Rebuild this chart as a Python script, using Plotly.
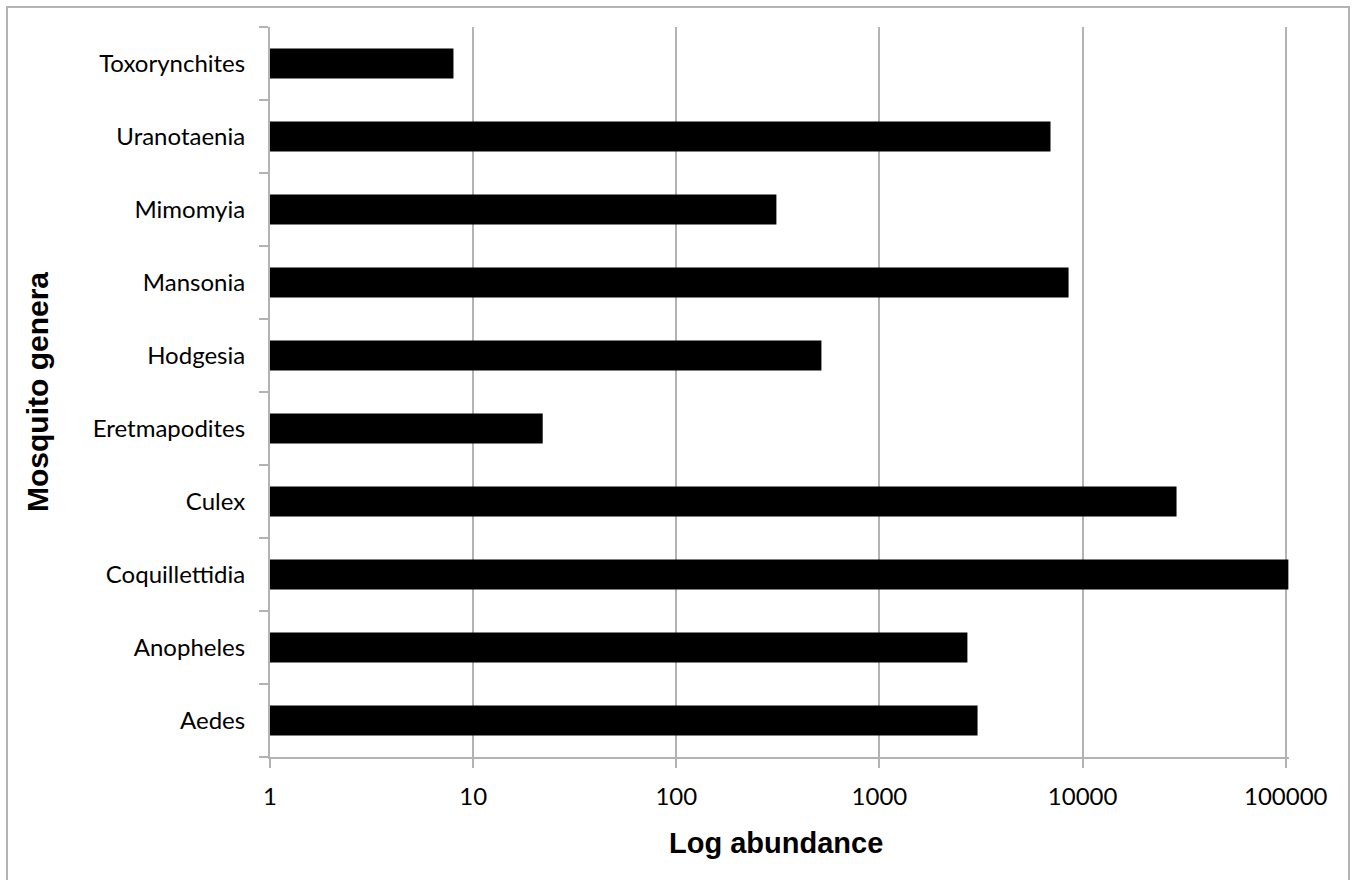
import plotly.graph_objects as go

genera = ["Aedes", "Anopheles", "Coquillettidia", "Culex", "Eretmapodites",
          "Hodgesia", "Mansonia", "Mimomyia", "Uranotaenia", "Toxorynchites"]
abundance = [3040, 2710, 103000, 29000, 22, 518, 8530, 311, 6950, 8]
tick_vals = [1, 10, 100, 1000, 10000, 100000]
tick_text = ["1", "10", "100", "1000", "10000", "100000"]

GRAY = "#b3b3b3"

fig = go.Figure(go.Bar(
    x=abundance, y=genera, orientation="h",
    marker=dict(color="black", line=dict(width=0)),
))

fig.update_layout(
    width=1355, height=880,
    margin=dict(l=270, r=66, t=27, b=123),
    plot_bgcolor="white", paper_bgcolor="white",
    bargap=0.59,
    showlegend=False,
    font=dict(family="Lato", color="black", size=24),
    xaxis=dict(
        type="log", range=[0, 5.016],
        tickvals=tick_vals, ticktext=tick_text,
        showgrid=True, gridcolor=GRAY, gridwidth=2,
        showline=True, linecolor=GRAY, linewidth=2,
        ticks="outside", ticklen=9, tickwidth=2, tickcolor=GRAY,
        ticklabelstandoff=8,
        tickfont=dict(family="Lato", size=24, color="black"),
        zeroline=False,
    ),
    yaxis=dict(
        type="category", categoryorder="array", categoryarray=genera,
        showgrid=False,
        showline=True, linecolor=GRAY, linewidth=2,
        ticks="outside", ticklen=9, tickwidth=2, tickcolor=GRAY,
        tickson="boundaries",
        ticklabelstandoff=18,
        tickfont=dict(family="Lato", size=24, color="black"),
    ),
    annotations=[
        dict(text="<b>Log abundance</b>", xref="paper", yref="paper",
             x=0.5, y=0, xanchor="center", yanchor="middle",
             xshift=-4, yshift=-86, showarrow=False,
             font=dict(family="Liberation Sans", size=29, color="black")),
        dict(text="<b>Mosquito genera</b>", xref="paper", yref="paper",
             x=0, y=0.5, xanchor="center", yanchor="middle", textangle=-90,
             xshift=-233, yshift=0, showarrow=False,
             font=dict(family="Liberation Sans", size=30, color="black")),
    ],
    shapes=[dict(type="rect", xref="paper", yref="paper",
                 x0=(7 - 270) / 1019, x1=(1349 - 270) / 1019,
                 y0=-0.2, y1=(757 - 7) / 730,
                 line=dict(color=GRAY, width=2), fillcolor="rgba(0,0,0,0)",
                 layer="below")],
)

fig.write_html("out.html", config={"displayModeBar": False},
               post_script="document.body.style.margin='0';")
